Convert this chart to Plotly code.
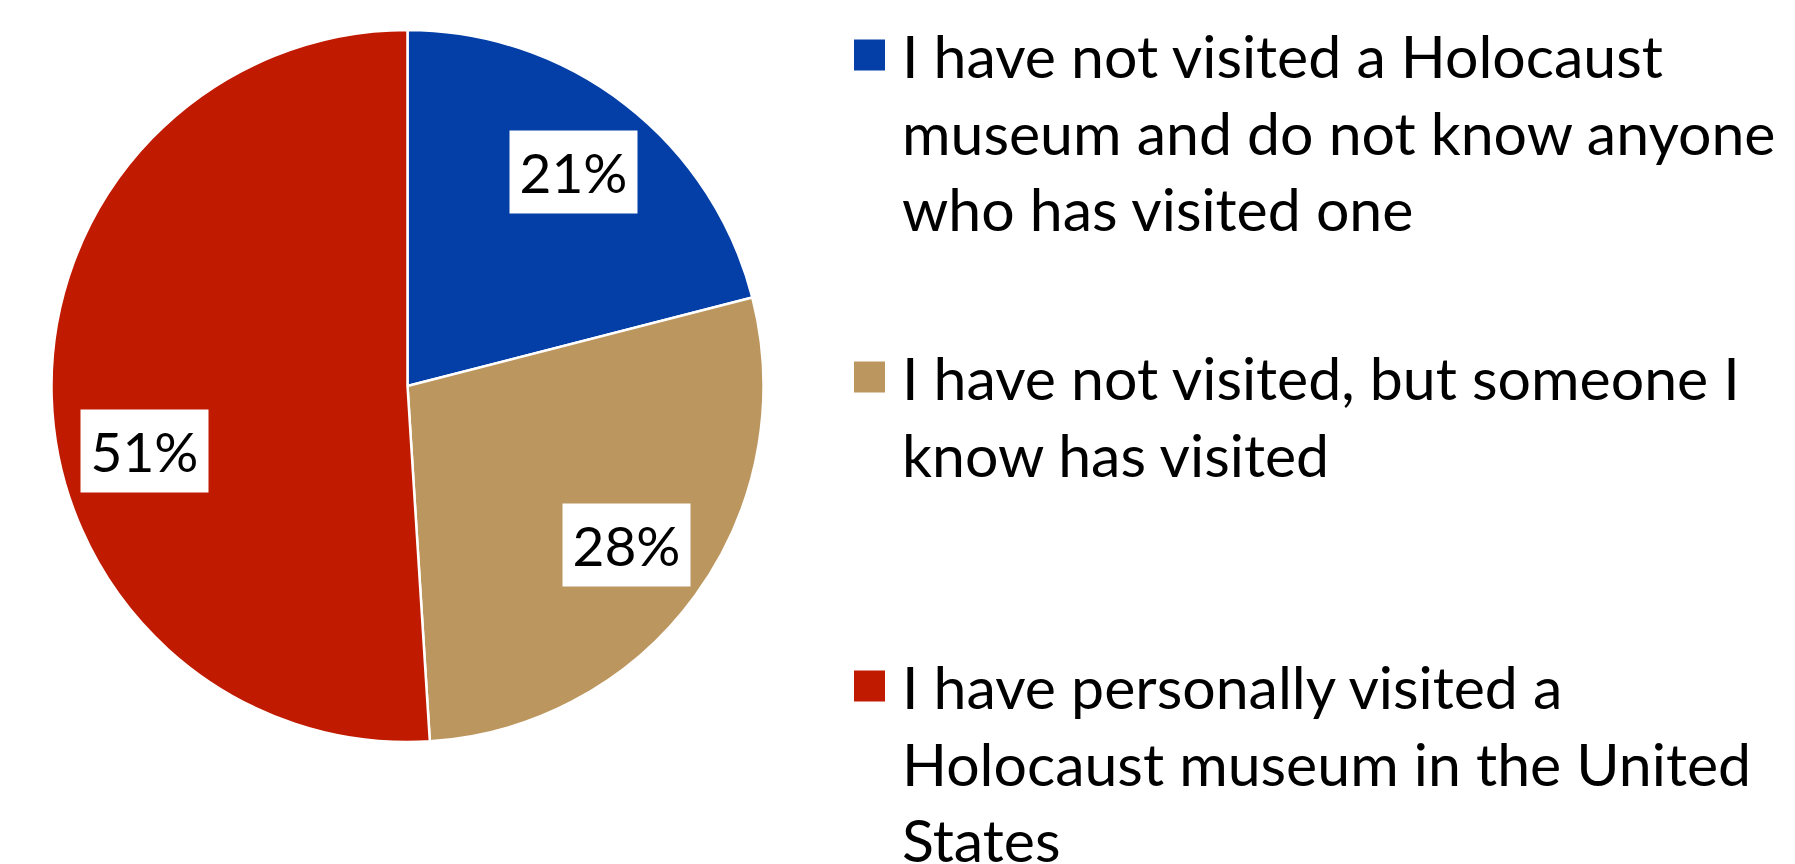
import math
import plotly.graph_objects as go

# Survey answers and their shares (percent)
categories = [
    "I have not visited a Holocaust museum and do not know anyone who has visited one",
    "I have not visited, but someone I know has visited",
    "I have personally visited a Holocaust museum in the United States",
]
legend_lines = [
    ["I have not visited a Holocaust", "museum and do not know anyone", "who has visited one"],
    ["I have not visited, but someone I", "know has visited"],
    ["I have personally visited a", "Holocaust museum in the United", "States"],
]
values = [21, 28, 51]
colors = ["#033FA6", "#BC965F", "#C01A00"]

W, H = 1795, 864
FONT = "Lato, Carlito, Calibri, sans-serif"

# pie geometry in pixels
CX, CY, R = 407.5, 386.0, 356.0
LABEL_DIST = 0.76          # label radius as a share of the pie radius
LABEL_ANGLE_SHIFT = [0, 0, -12]  # degrees, nudges a label away from its slice middle
LABEL_BOX_W, LABEL_BOX_H = 119, 74

# legend layout in pixels
LEG_SQ_X, LEG_SQ = 854, 31
LEG_TEXT_X = 900
LEG_ROW_Y = [55, 377, 686]
FS_LABEL, FS_LEG = 55, 59


def px(x):
    return x / W


def py(y):
    return 1 - y / H


fig = go.Figure(
    go.Pie(
        labels=categories,
        values=values,
        sort=False,
        direction="clockwise",
        rotation=0,
        marker=dict(colors=colors, line=dict(color="white", width=2.5)),
        textinfo="none",
        hoverinfo="label+percent",
        showlegend=False,
        domain=dict(x=[px(CX - R), px(CX + R)], y=[py(CY + R), py(CY - R)]),
    )
)

annotations = []
shapes = []

# percentage labels in white boxes, placed at each slice's angular middle
total = sum(values)
cum = 0
for i, v in enumerate(values):
    mid = (cum + v / 2) / total * 360 + LABEL_ANGLE_SHIFT[i]
    cum += v
    t = math.radians(mid)
    lx = CX + LABEL_DIST * R * math.sin(t)
    ly = CY - LABEL_DIST * R * math.cos(t)
    annotations.append(dict(
        x=px(lx), y=py(ly), xref="paper", yref="paper",
        text=f"{v}%", showarrow=False,
        font=dict(family=FONT, size=FS_LABEL, color="black"),
        bgcolor="white", borderpad=4,
        width=LABEL_BOX_W, height=LABEL_BOX_H,
        align="center", valign="middle",
        xanchor="center", yanchor="middle",
    ))

# legend: colour squares and wrapped descriptions
for i, lines in enumerate(legend_lines):
    yc = LEG_ROW_Y[i]
    shapes.append(dict(
        type="rect", xref="paper", yref="paper",
        x0=px(LEG_SQ_X), x1=px(LEG_SQ_X + LEG_SQ),
        y0=py(yc + LEG_SQ / 2), y1=py(yc - LEG_SQ / 2),
        fillcolor=colors[i], line=dict(width=0),
    ))
    annotations.append(dict(
        x=px(LEG_TEXT_X), y=py(yc - 0.62 * FS_LEG), xref="paper", yref="paper",
        text="<br>".join(lines), showarrow=False, align="left",
        font=dict(family=FONT, size=FS_LEG, color="black"),
        xanchor="left", yanchor="top",
    ))

fig.update_layout(
    width=W, height=H,
    margin=dict(l=0, r=0, t=0, b=0),
    paper_bgcolor="white", plot_bgcolor="white",
    annotations=annotations, shapes=shapes,
    showlegend=False,
)

fig.write_html("out.html")
